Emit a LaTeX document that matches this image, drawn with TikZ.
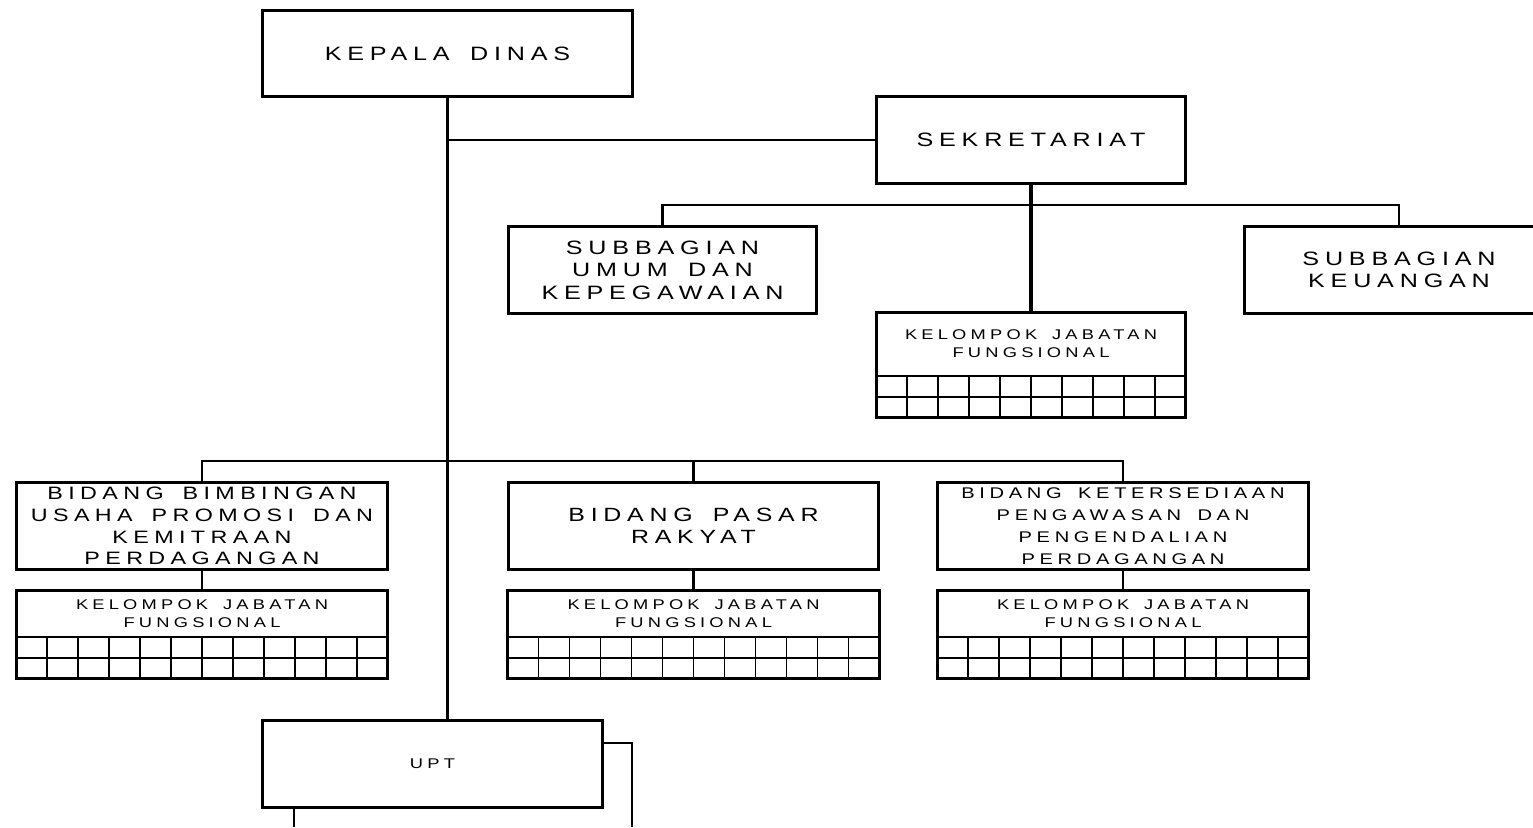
\documentclass[tikz,border=0pt]{standalone}
\usepackage{fontspec}
\newfontfamily\orgfont[LetterSpace=30,FakeStretch=1.3,WordSpace=1.6]{Liberation Sans}
\usetikzlibrary{calc}

\begin{document}
\begin{tikzpicture}[
		x=0.01cm,y=-0.01cm,
		unit/.style={rectangle,draw,line width=0.85pt,inner sep=0pt,align=center,minimum height=0.86cm,font=\orgfont\fontsize{5.5}{6.4}\selectfont},
		bid/.style={unit,minimum width=3.7cm,font=\orgfont\fontsize{5.1}{6.2}\selectfont},
		kjf/.style={rectangle,inner sep=0pt,align=center,font=\orgfont\fontsize{4}{5.1}\selectfont},
		boxframe/.style={line width=0.85pt},
		gridline/.style={line width=0.45pt},
		trunk/.style={line width=1.1pt},
		conn/.style={line width=0.7pt}
		]
		\useasboundingbox (0,0) rectangle (1533,827);
		
		\node[unit,minimum width=3.69cm,minimum height=0.85cm](kepala) at (447.5,53.5){KEPALA DINAS};
		\node[unit,minimum width=3.08cm](sekr) at (1031,140){SEKRETARIAT};
		\node[unit,minimum width=3.07cm](umum) at (662.5,270){SUBBAGIAN\\UMUM DAN\\KEPEGAWAIAN};
		\node[unit,minimum width=3.08cm](keu) at (1399,270){SUBBAGIAN\\KEUANGAN};
		\node[kjf,minimum width=3.08cm,minimum height=0.62cm](kjf0) at (1031,344){KELOMPOK JABATAN\\FUNGSIONAL};
		
		\node[bid](bid1) at (202,526){BIDANG BIMBINGAN\\USAHA PROMOSI DAN\\KEMITRAAN\\PERDAGANGAN};
		\node[bid,font=\orgfont\fontsize{5.45}{6.2}\selectfont](bid2) at (693.5,526){BIDANG PASAR\\RAKYAT};
		\node[bid,font=\orgfont\fontsize{4.4}{6.2}\selectfont](bid3) at (1123,526){BIDANG KETERSEDIAAN\\PENGAWASAN DAN\\PENGENDALIAN\\PERDAGANGAN};
		
		\node[kjf,minimum width=3.7cm,minimum height=0.45cm](kjf1) at (202,613.5){KELOMPOK JABATAN\\FUNGSIONAL};
		\node[kjf,minimum width=3.7cm,minimum height=0.45cm](kjf2) at (693.5,613.5){KELOMPOK JABATAN\\FUNGSIONAL};
		\node[kjf,minimum width=3.7cm,minimum height=0.45cm](kjf3) at (1123,613.5){KELOMPOK JABATAN\\FUNGSIONAL};
		
		\node[unit,minimum width=3.39cm,font=\orgfont\fontsize{4}{5}\selectfont](upt) at (432.5,764){UPT};
		
		\coordinate (sekbus) at (1031,205);
		\coordinate (bidbus) at (447.5,461);
		\coordinate (uptL) at (294,827);
		\coordinate (uptR) at (632,827);
		
		% lines
		\draw[trunk] (kepala.south) -- (kepala.south |- upt.north);
		\draw[conn] (kepala.south |- sekr.west) -- (sekr.west);
		\draw[trunk] (sekr.south) -- (kjf0.north);
		\draw[conn] (umum.north) |- (sekbus) -| (keu.north);
		\draw[conn] (bid1.north) |- (bidbus) -| (bid3.north);
		\draw[conn] (bid2.north) -- (bid2.north |- bidbus);
		\draw[conn] (bid1.south) -- (kjf1.north);
		\draw[conn] (bid2.south) -- (kjf2.north);
		\draw[conn] (bid3.south) -- (kjf3.north);
		\draw[conn] (upt.south west -| uptL) -- (uptL);
		\draw[conn] ($(upt.east)+(0,0.21cm)$) -| (uptR);
		
		% tables under kelompok jabatan fungsional
		\draw[boxframe] (kjf0.north west) rectangle ($(kjf0.south east)+(0,-0.42cm)$);
		\draw[gridline] (kjf0.south west) -- (kjf0.south east);
		\draw[gridline] ($(kjf0.south west)+(0,-0.21cm)$) -- ($(kjf0.south east)+(0,-0.21cm)$);
		\foreach \i in {1,...,9}
		\draw[gridline] ($(kjf0.south west)!\i/10!(kjf0.south east)$) -- ++(0,-0.42cm);
		
		\foreach \k in {kjf1,kjf2,kjf3}{
			\draw[boxframe] (\k.north west) rectangle ($(\k.south east)+(0,-0.42cm)$);
			\draw[gridline] (\k.south west) -- (\k.south east);
			\draw[gridline] ($(\k.south west)+(0,-0.21cm)$) -- ($(\k.south east)+(0,-0.21cm)$);
			\foreach \i in {1,...,11}
			\draw[gridline] ($(\k.south west)!\i/12!(\k.south east)$) -- ++(0,-0.42cm);
		}
		
\end{tikzpicture}
\end{document}
